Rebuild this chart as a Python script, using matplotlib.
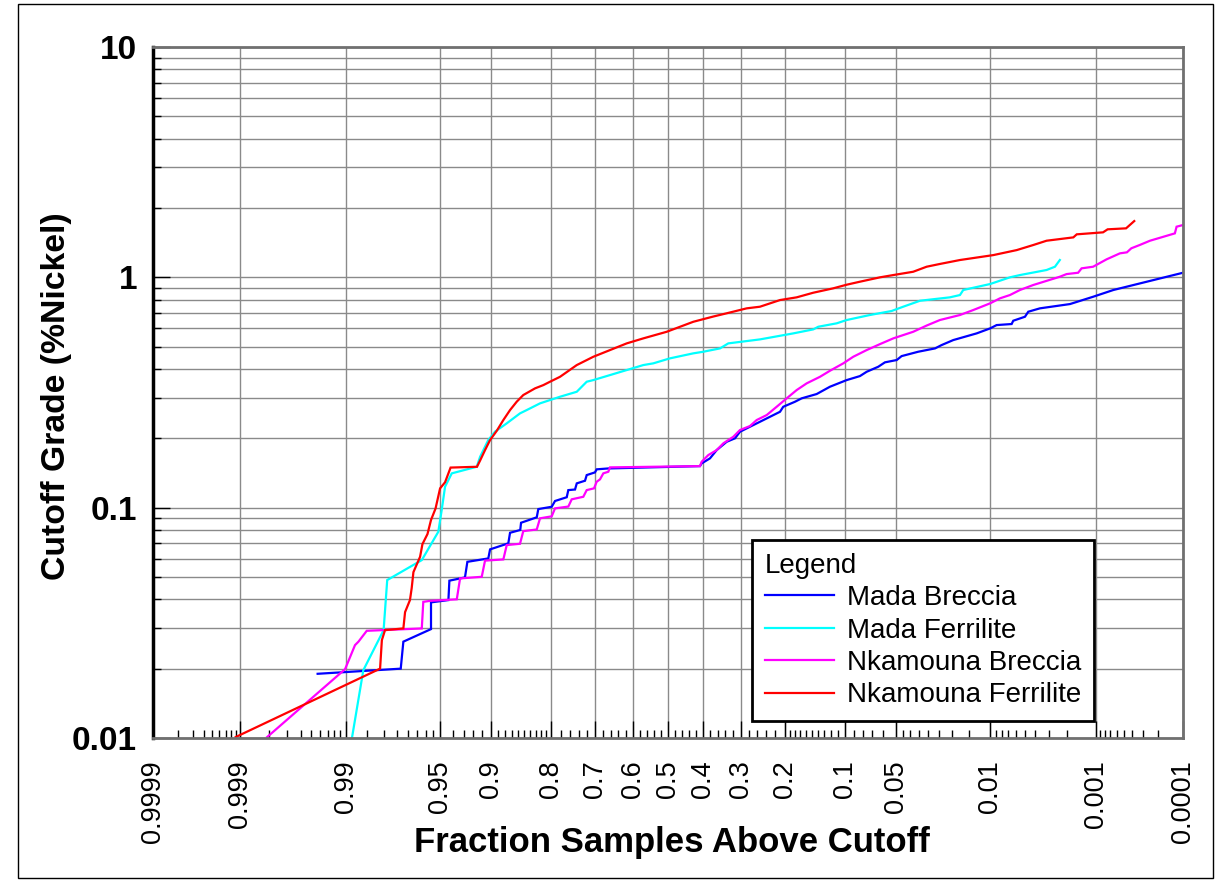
import numpy as np
import matplotlib
matplotlib.use("Agg")
import matplotlib.pyplot as plt
from matplotlib.ticker import FixedLocator, FixedFormatter, NullFormatter
from matplotlib.patches import Rectangle
from statistics import NormalDist

plt.rcParams['font.family'] = ['Liberation Sans', 'DejaVu Sans']

# ---------------- data ----------------
mada_breccia_frac = [0.9943, 0.9732, 0.9720, 0.9565, 0.9565, 0.9436, 0.9428, 0.9287, 0.9263, 0.9028,
                     0.9006, 0.8756, 0.8730, 0.8570, 0.8557, 0.8284, 0.8255, 0.7995, 0.7927, 0.7677,
                     0.7642, 0.7490, 0.7450, 0.7255, 0.7214, 0.7010, 0.6967, 0.6668, 0.4087, 0.4039,
                     0.3809, 0.3626, 0.3359, 0.3143, 0.3016, 0.2769, 0.2533, 0.2307, 0.2093, 0.2026,
                     0.1796, 0.1672, 0.1415, 0.1211, 0.0985, 0.0829, 0.0757, 0.0645, 0.0586, 0.0493,
                     0.0458, 0.0354, 0.0269, 0.0241, 0.0197, 0.0129, 0.0100, 0.00882, 0.00654, 0.00633,
                     0.00497, 0.00464, 0.00362, 0.00185, 0.00107, 0.00065, 0.0001]
mada_breccia_grade = [0.0190, 0.0200, 0.0262, 0.0297, 0.0388, 0.0397, 0.0482, 0.0498, 0.0582, 0.0602,
                      0.0659, 0.0700, 0.0778, 0.0800, 0.0860, 0.0908, 0.0986, 0.1009, 0.1069, 0.1110,
                      0.1192, 0.1199, 0.1275, 0.1309, 0.1385, 0.1423, 0.1467, 0.1480, 0.1515, 0.1557,
                      0.1637, 0.1778, 0.1932, 0.2000, 0.2136, 0.2246, 0.2360, 0.2481, 0.2608, 0.2742,
                      0.2883, 0.2983, 0.3114, 0.3350, 0.3580, 0.3726, 0.3890, 0.4090, 0.4275, 0.4375,
                      0.4550, 0.4753, 0.4914, 0.5080, 0.5341, 0.5711, 0.6003, 0.6205, 0.6270, 0.6480,
                      0.6745, 0.7090, 0.7334, 0.7655, 0.8236, 0.8810, 1.047]

mada_ferrilite_frac = [0.9888, 0.9861, 0.9800, 0.9787, 0.9623, 0.9514, 0.9489, 0.9463, 0.9408, 0.9164,
                       0.9126, 0.9028, 0.8942, 0.8779, 0.8574, 0.8462, 0.8223, 0.8029, 0.7822, 0.7450,
                       0.7214, 0.7052, 0.6623, 0.6172, 0.5708, 0.5423, 0.4943, 0.4275, 0.3994, 0.3537,
                       0.3316, 0.2533, 0.1828, 0.1471, 0.1389, 0.1116, 0.0985, 0.0724, 0.0532, 0.0447,
                       0.0344, 0.0209, 0.0175, 0.0165, 0.0100, 0.00677, 0.00552, 0.00313, 0.0026, 0.00233]
mada_ferrilite_grade = [0.0099, 0.0197, 0.0294, 0.0485, 0.0592, 0.0786, 0.0976, 0.1233, 0.1409, 0.1505,
                        0.1663, 0.1966, 0.2138, 0.2323, 0.2567, 0.2653, 0.2837, 0.2932, 0.3031, 0.3186,
                        0.3522, 0.3580, 0.3764, 0.3958, 0.4160, 0.4232, 0.4449, 0.4677, 0.4753, 0.4914,
                        0.5167, 0.5377, 0.5710, 0.5943, 0.6102, 0.6314, 0.6526, 0.6862, 0.7142, 0.7455,
                        0.7913, 0.8187, 0.8378, 0.8810, 0.9354, 1.000, 1.023, 1.076, 1.112, 1.189]

nkamouna_breccia_frac = [0.9981, 0.99015, 0.9881, 0.9873, 0.9852, 0.9623, 0.9614, 0.9571, 0.9364, 0.9334,
                         0.9107, 0.9068, 0.8828, 0.8779, 0.8574, 0.8520, 0.8284, 0.8223, 0.7995, 0.7927,
                         0.7642, 0.7566, 0.7296, 0.7214, 0.7034, 0.6967, 0.6883, 0.6798, 0.6668, 0.6623,
                         0.4087, 0.4039, 0.3855, 0.3626, 0.3448, 0.3186, 0.3016, 0.2769, 0.2610, 0.2380,
                         0.2163, 0.1957, 0.1764, 0.1583, 0.1362, 0.1211, 0.1028, 0.0905, 0.0757, 0.0629,
                         0.0519, 0.0383, 0.0309, 0.0248, 0.0175, 0.01375, 0.0100, 0.00826, 0.00677, 0.00552,
                         0.00418, 0.00233, 0.0020, 0.00153, 0.00141, 0.00107, 0.00077, 0.00055, 0.00046, 0.00041,
                         0.00033, 0.00025, 0.000126, 0.00012, 0.0001]
nkamouna_breccia_grade = [0.0101, 0.0199, 0.0253, 0.0262, 0.0292, 0.0299, 0.0390, 0.0394, 0.0400, 0.0493,
                          0.0501, 0.0589, 0.0596, 0.0688, 0.0697, 0.0791, 0.0804, 0.0899, 0.0917, 0.0993,
                          0.1011, 0.1087, 0.1115, 0.1192, 0.1213, 0.1296, 0.1327, 0.1409, 0.1432, 0.1496,
                          0.1515, 0.1583, 0.1692, 0.1778, 0.1902, 0.2031, 0.2173, 0.2262, 0.2401, 0.2524,
                          0.2742, 0.2983, 0.3240, 0.3465, 0.3700, 0.3930, 0.4232, 0.4520, 0.4833, 0.5130,
                          0.5432, 0.5803, 0.6175, 0.6526, 0.6862, 0.7211, 0.7712, 0.8107, 0.8378, 0.8810,
                          0.9260, 1.006, 1.033, 1.047, 1.094, 1.112, 1.197, 1.271, 1.284, 1.337,
                          1.381, 1.442, 1.552, 1.659, 1.687]

nkamouna_ferrilite_frac = [0.9991, 0.9812, 0.9806, 0.9795, 0.9720, 0.9712, 0.9688, 0.9679, 0.9670, 0.9633,
                           0.9619, 0.9588, 0.9565, 0.9534, 0.9501, 0.9463, 0.9418, 0.9161, 0.9126, 0.9068,
                           0.9006, 0.8919, 0.8828, 0.8730, 0.8627, 0.8520, 0.8315, 0.8160, 0.8029, 0.7822,
                           0.7450, 0.7052, 0.6623, 0.6172, 0.5708, 0.5037, 0.4275, 0.3718, 0.3359, 0.2850,
                           0.2533, 0.2093, 0.1764, 0.1471, 0.1164, 0.0985, 0.0829, 0.0629, 0.0519, 0.0383,
                           0.0309, 0.0248, 0.0175, 0.0094, 0.0059, 0.00418, 0.00313, 0.00171, 0.00158, 0.00084,
                           0.00075, 0.00047, 0.00038]
nkamouna_ferrilite_grade = [0.0101, 0.0200, 0.0266, 0.0294, 0.0299, 0.0352, 0.0397, 0.0448, 0.0525, 0.0612,
                            0.0695, 0.0768, 0.0884, 0.0991, 0.1213, 0.1289, 0.1493, 0.1505, 0.1602, 0.1778,
                            0.1966, 0.2156, 0.2401, 0.2653, 0.2884, 0.3083, 0.3296, 0.3405, 0.3522, 0.3700,
                            0.4160, 0.4520, 0.4833, 0.5167, 0.5432, 0.5803, 0.6413, 0.6758, 0.6980, 0.7334,
                            0.7455, 0.7969, 0.8187, 0.8574, 0.8959, 0.9289, 0.9572, 1.000, 1.023, 1.0575,
                            1.112, 1.143, 1.189, 1.249, 1.313, 1.381, 1.442, 1.491, 1.537, 1.568,
                            1.616, 1.632, 1.755]

series_names = ['Mada Breccia', 'Mada Ferrilite', 'Nkamouna Breccia', 'Nkamouna Ferrilite']
series_colors = ['#0000FF', '#00FFFF', '#FF00FF', '#FF0000']

x_major = [0.9999, 0.999, 0.99, 0.95, 0.9, 0.8, 0.7, 0.6, 0.5, 0.4, 0.3, 0.2, 0.1, 0.05, 0.01, 0.001, 0.0001]
x_labels = ['0.9999', '0.999', '0.99', '0.95', '0.9', '0.8', '0.7', '0.6', '0.5', '0.4', '0.3', '0.2',
            '0.1', '0.05', '0.01', '0.001', '0.0001']
x_minor = ([0.9998, 0.9997, 0.9996, 0.9995, 0.9994, 0.9993, 0.9992, 0.9991,
            0.998, 0.997, 0.996, 0.995, 0.994, 0.993, 0.992, 0.991,
            0.985, 0.98, 0.975, 0.97, 0.965, 0.96, 0.955,
            0.94, 0.93, 0.92, 0.91,
            0.89, 0.88, 0.87, 0.86, 0.85, 0.84, 0.83, 0.82, 0.81,
            0.78, 0.76, 0.74, 0.72, 0.68, 0.66, 0.64, 0.62,
            0.58, 0.56, 0.54, 0.52, 0.48, 0.46, 0.44, 0.42,
            0.38, 0.36, 0.34, 0.32, 0.28, 0.26, 0.24, 0.22,
            0.19, 0.18, 0.17, 0.16, 0.15, 0.14, 0.13, 0.12, 0.11,
            0.09, 0.08, 0.07, 0.06,
            0.045, 0.04, 0.035, 0.03, 0.025, 0.02, 0.015,
            0.009, 0.008, 0.007, 0.006, 0.005, 0.004, 0.003, 0.002,
            0.0009, 0.0008, 0.0007, 0.0006, 0.0005, 0.0004, 0.0003, 0.0002])
y_major = [0.01, 0.1, 1, 10]
y_labels = ['0.01', '0.1', '1', '10']

# ---------------- probability scale ----------------
_nd = NormalDist()


def _ppf1(p):
    if not np.isfinite(p):
        return np.nan
    p = min(max(p, 1e-12), 1 - 1e-12)
    return _nd.inv_cdf(p)


def _cdf1(z):
    if not np.isfinite(z):
        return np.nan
    return _nd.cdf(z)


_ppf_v = np.vectorize(_ppf1, otypes=[float])
_cdf_v = np.vectorize(_cdf1, otypes=[float])


def fwd(p):
    return _ppf_v(np.asarray(p, dtype=float))


def inv(z):
    return _cdf_v(np.asarray(z, dtype=float))


W, H = 1215, 880
fig = plt.figure(figsize=(W / 100, H / 100), dpi=100)
ax = fig.add_axes([153 / W, 1 - 738 / H, 1030 / W, 691 / H])

ax.set_xscale('function', functions=(fwd, inv))
ax.set_yscale('log')
ax.set_xlim(0.9999, 0.0001)
ax.set_ylim(0.01, 10)

grid_c = '#8a8a8a'
for xv in x_major:
    ax.axvline(xv, color=grid_c, lw=1.0, zorder=1)
y_grid = [m * 10.0 ** e for e in (-2, -1, 0) for m in range(1, 10)] + [10]
for yv in y_grid:
    ax.axhline(yv, color=grid_c, lw=1.0, zorder=1)

series = [
    (mada_breccia_frac, mada_breccia_grade),
    (mada_ferrilite_frac, mada_ferrilite_grade),
    (nkamouna_breccia_frac, nkamouna_breccia_grade),
    (nkamouna_ferrilite_frac, nkamouna_ferrilite_grade),
]
handles = []
for (fx, gy), name, col in zip(series, series_names, series_colors):
    h, = ax.plot(fx, gy, color=col, lw=1.6, label=name, zorder=3, solid_joinstyle='miter')
    handles.append(h)

ax.xaxis.set_major_locator(FixedLocator(x_major))
ax.xaxis.set_major_formatter(FixedFormatter(x_labels))
ax.xaxis.set_minor_locator(FixedLocator(x_minor))
ax.xaxis.set_minor_formatter(NullFormatter())
ax.yaxis.set_major_locator(FixedLocator(y_major))
ax.yaxis.set_major_formatter(FixedFormatter(y_labels))
ax.yaxis.set_minor_locator(FixedLocator([m * 10.0 ** e for e in (-2, -1, 0) for m in range(2, 10)]))
ax.yaxis.set_minor_formatter(NullFormatter())

ax.tick_params(axis='both', which='major', direction='in', length=12, width=1.0, color='black')
ax.tick_params(axis='both', which='minor', direction='in', length=6, width=1.0, color='black')
ax.tick_params(axis='x', which='major', labelsize=19.5, pad=16, labelrotation=90)
ax.tick_params(axis='y', which='major', labelsize=24, pad=11.5)
ax.tick_params(top=False, right=False, which='both')
for lab in ax.get_yticklabels():
    lab.set_fontweight('bold')

for s in ['top', 'right', 'bottom']:
    ax.spines[s].set_color('#707070')
    ax.spines[s].set_linewidth(2.0)
ax.spines['left'].set_color('black')
ax.spines['left'].set_linewidth(2.5)
for s in ax.spines.values():
    s.set_zorder(4)

ax.set_xlabel('Fraction Samples Above Cutoff', fontsize=25, fontweight='bold')
ax.xaxis.set_label_coords((671.5 - 153) / 1030, (738 - 842) / 691)
ax.xaxis.label.set_va('center')
ax.set_ylabel('Cutoff Grade (%Nickel)', fontsize=24.3, fontweight='bold')
ax.yaxis.set_label_coords((57 - 153) / 1030, (738 - 396) / 691)
ax.yaxis.label.set_va('center')

leg = ax.legend(handles, series_names, title='Legend', loc='upper left',
                bbox_to_anchor=((752 - 153) / 1030, (738 - 540) / 691), borderaxespad=0,
                fontsize=20, title_fontsize=20, frameon=True, fancybox=False,
                edgecolor='black', framealpha=1, handlelength=2.5, handletextpad=0.45,
                labelspacing=0.23, borderpad=0.46, alignment='left')
leg.get_frame().set_linewidth(2.0)
leg.set_zorder(5)

fig.patches.append(Rectangle((18 / W, 2 / H), (1213 - 18) / W, (876 - 2) / H,
                             transform=fig.transFigure, fill=False, edgecolor='black', lw=1.0))

fig.savefig('out.png', dpi=100)
